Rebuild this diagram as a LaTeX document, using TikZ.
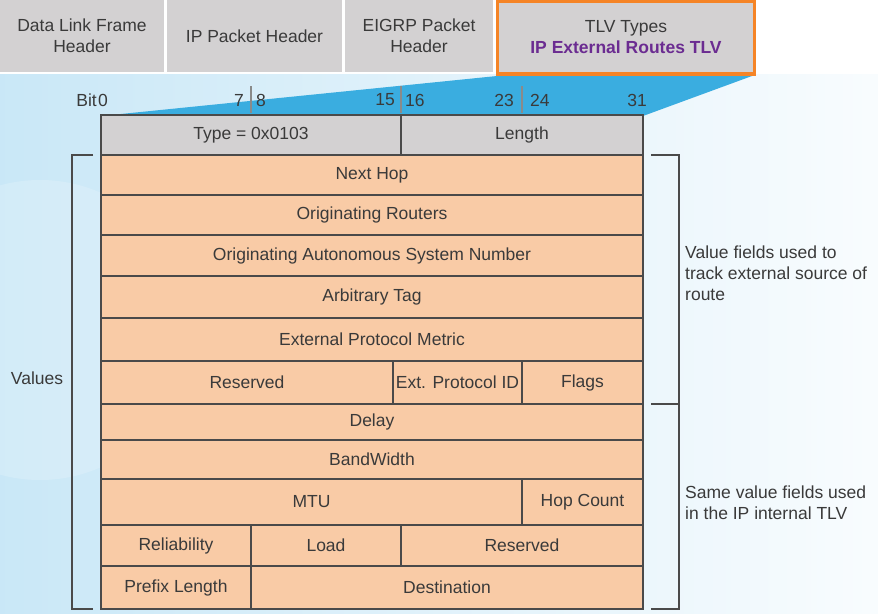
\documentclass[tikz,border=0pt]{standalone}
\usepackage{fontspec}
\setmainfont{Liberation Sans}
\definecolor{bgblue}{HTML}{BDE2F5}
\definecolor{wedge}{HTML}{3AADE0}
\definecolor{hdrgray}{HTML}{D3D1D2}
\definecolor{tlvorange}{HTML}{F58426}
\definecolor{tlvpurple}{HTML}{6B2C91}
\definecolor{cellfill}{HTML}{F9CBA6}
\definecolor{cellline}{HTML}{4A4A4A}
\definecolor{textgray}{HTML}{3A3A3A}
\definecolor{tickgray}{HTML}{8A8A8A}
\pgfdeclarehorizontalshading{bgshade}{100bp}{color(0bp)=(bgblue); color(12bp)=(bgblue); color(82bp)=(white); color(100bp)=(white)}
% one field of the frame: name, x1, y1, x2, y2, label, fill
\newcommand{\fieldbox}[7]{%
  \node[cell, fill=#7, minimum width={#4pt-#2pt}, minimum height={#5pt-#3pt}]
    (#1) at ({(#2+#4)/2},{(#3+#5)/2}) {#6};}
\begin{document}
\begin{tikzpicture}[x=1pt,y=-1pt,
  txt/.style={text=textgray, font=\fontsize{17.5}{21}\selectfont},
  cell/.style={draw=cellline, line width=2.4pt, inner sep=0pt, txt},
  hdr/.style={fill=hdrgray, inner sep=0pt, txt, align=center},
  bitlbl/.style={txt, inner sep=0pt},
  bittick/.style={draw=tickgray, line width=2.2pt},
  bracket/.style={draw=cellline, line width=1.6pt},
  note/.style={txt, align=left, anchor=west, inner sep=0pt}]
\useasboundingbox (0,0) rectangle (878,613);
% background
\shade[shading=bgshade] (0,0) rectangle (878,613);
\fill[white, opacity=0.18] (40,330) circle (150);
% blue wedge from the TLV header down to the frame
\fill[wedge] (101,116) -- (497,76) -- (752,76) -- (643,116) -- cycle;
% header strip
\fill[white] (0,0) rectangle (878,74);
\node[hdr, minimum width=164pt, minimum height=72pt] (dl) at (82,36) {Data Link Frame\\Header};
\node[hdr, minimum width=175pt, minimum height=72pt] (ip) at (254.5,36) {IP Packet Header};
\node[hdr, minimum width=148pt, minimum height=72pt] (eigrp) at (419,36) {EIGRP Packet\\Header};
\node[hdr, draw=tlvorange, line width=3.5pt, minimum width=257pt, minimum height=73pt] (tlv) at (626,37.5)
  {TLV Types\\{\color{tlvpurple}\bfseries IP External Routes TLV}};
% bit numbering
\node[bitlbl, anchor=east] (bit) at (97,100) {Bit};
\node[bitlbl, anchor=west] (b0) at (98,100) {0};
\node[bitlbl, anchor=east] (b7) at (244,100) {7};
\node[bitlbl, anchor=west] (b8) at (256,100) {8};
\node[bitlbl, anchor=east] (b15) at (395,100) {15};
\node[bitlbl, anchor=west] (b16) at (405,100) {16};
\node[bitlbl, anchor=east] (b23) at (514,100) {23};
\node[bitlbl, anchor=west] (b24) at (530,100) {24};
\node[bitlbl] (b31) at (637,100) {31};
\coordinate (t1a) at (251,86); \coordinate (t1b) at (251,113);
\coordinate (t2a) at (401,86); \coordinate (t2b) at (401,113);
\coordinate (t3a) at (522,86); \coordinate (t3b) at (522,113);
\draw[bittick] (t1a) -- (t1b);
\draw[bittick] (t2a) -- (t2b);
\draw[bittick] (t3a) -- (t3b);
% frame fields
\fieldbox{type}{101}{115}{401}{155}{Type = 0x0103}{hdrgray}
\fieldbox{len}{401}{115}{643}{155}{Length}{hdrgray}
\fieldbox{nexthop}{101}{155}{643}{195}{Next Hop}{cellfill}
\fieldbox{origrt}{101}{195}{643}{235}{Originating Routers}{cellfill}
\fieldbox{origas}{101}{235}{643}{276}{Originating Autonomous System Number}{cellfill}
\fieldbox{tag}{101}{276}{643}{318}{Arbitrary Tag}{cellfill}
\fieldbox{metric}{101}{318}{643}{361}{External Protocol Metric}{cellfill}
\fieldbox{resv1}{101}{361}{393}{404}{Reserved}{cellfill}
\fieldbox{protoid}{393}{361}{522}{404}{Ext. Protocol ID}{cellfill}
\fieldbox{flags}{522}{361}{643}{404}{Flags}{cellfill}
\fieldbox{delay}{101}{404}{643}{440}{Delay}{cellfill}
\fieldbox{bw}{101}{440}{643}{479}{BandWidth}{cellfill}
\fieldbox{mtu}{101}{479}{522}{525}{MTU}{cellfill}
\fieldbox{hops}{522}{479}{643}{525}{Hop Count}{cellfill}
\fieldbox{rel}{101}{525}{251}{566}{Reliability}{cellfill}
\fieldbox{load}{251}{525}{401}{566}{Load}{cellfill}
\fieldbox{resv2}{401}{525}{643}{566}{Reserved}{cellfill}
\fieldbox{pfx}{101}{566}{251}{609}{Prefix Length}{cellfill}
\fieldbox{dest}{251}{566}{643}{609}{Destination}{cellfill}
% brackets and notes
\draw[bracket] (93,155) -| (72,609) -- (93,609);
\node[txt, inner sep=0pt] (values) at (37,378) {Values};
\draw[bracket] (651,155) -| (679,404);
\draw[bracket] (651,404) -| (679,609) -- (651,609);
\node[note] (ext) at (685,273) {Value fields used to\\track external source of\\route};
\node[note] (int) at (685,502.5) {Same value fields used\\in the IP internal TLV};
\end{tikzpicture}
\end{document}
